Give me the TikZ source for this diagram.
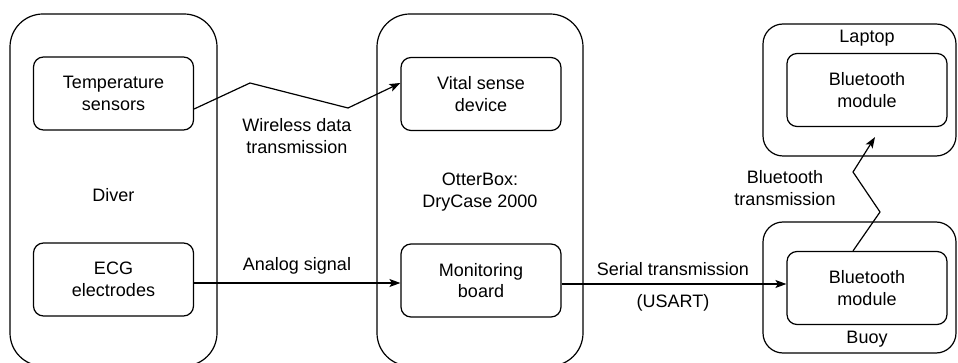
\documentclass[tikz,border=0pt]{standalone}
\usepackage{fontspec}
\setmainfont{Liberation Sans}
\usetikzlibrary{arrows.meta}
\begin{document}
\begin{tikzpicture}[x=1pt,y=-1pt,
  every node/.style={font=\fontsize{18}{21.5}\selectfont, align=center, inner sep=0pt},
  frame/.style={draw, line width=1.2pt, rounded corners=33pt},
  devframe/.style={draw, line width=1.2pt, rounded corners=20pt},
  unit/.style={draw, line width=1.2pt, rounded corners=10pt,
    minimum width=160pt, minimum height=73pt},
  conn/.style={line width=1.2pt, -{Stealth[length=11pt,width=8pt,inset=2.5pt]}}
]
\useasboundingbox (0,0) rectangle (958,363);
\clip (0,0) rectangle (958,363);

% containers
\node[frame, minimum width=207pt, minimum height=352pt] (diverbox) at (113.5,190) {};
\node[frame, minimum width=206pt, minimum height=352pt] (casebox) at (480,190) {};
\node[devframe, minimum width=193pt, minimum height=132pt] (laptopbox) at (859.5,90) {};
\node[devframe, minimum width=193pt, minimum height=131pt] (buoybox) at (859.5,287.5) {};

% container captions
\node (diver) at (113.5,195) {Diver};
\node (case) at (480,192) {OtterBox:\\DryCase 2000};
\node (laptop) at (867,38) {Laptop};
\node (buoy) at (867,339) {Buoy};

% functional units
\node[unit] (temp) at (113.5,93.5) {Temperature\\sensors};
\node[unit] (ecg) at (113.5,279.5) {ECG\\electrodes};
\node[unit] (vital) at (481,94) {Vital sense\\device};
\node[unit] (mon) at (481,280.5) {Monitoring\\board};
\node[unit] (btl) at (867,90) {Bluetooth\\module};
\node[unit] (btb) at (867,288) {Bluetooth\\module};

% wireless link (zig-zag)
\coordinate (w1) at (250,83);
\coordinate (w2) at (348,108);
\draw[conn] ([yshift=-15.5pt]temp.east) -- (w1) -- (w2) -- ([yshift=11pt]vital.west);
\node (wl) at (297,136) {Wireless data\\transmission};

% analog link
\coordinate (a0) at ([yshift=-3.5pt]ecg.east);
\draw[conn] (a0) -- (a0 -| mon.west);
\node (al) at (297,266) {Analog signal};

% serial link
\coordinate (s0) at ([yshift=-3.5pt]mon.east);
\draw[conn] (s0) -- (s0 -| btb.west);
\node (sl) at (673,269) {Serial transmission};
\node (sl2) at (673,303) {(USART)};

% bluetooth link (zig-zag)
\coordinate (b1) at (880,212);
\coordinate (b2) at (853,172);
\draw[conn] ([xshift=-14pt]btb.north) -- (b1) -- (b2) -- ([xshift=8pt,yshift=-10pt]btl.south);
\node (bl) at (785,188) {Bluetooth\\transmission};
\end{tikzpicture}
\end{document}
